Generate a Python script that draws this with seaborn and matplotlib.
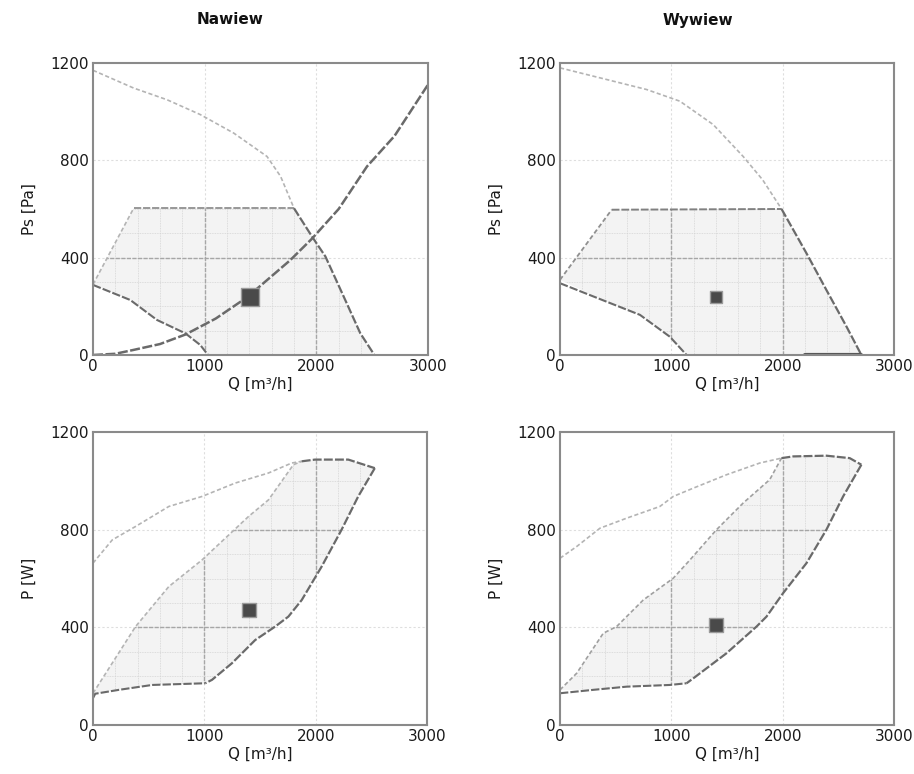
import numpy as np
import pandas as pd
import matplotlib
matplotlib.use("Agg")
import matplotlib.pyplot as plt
from matplotlib.patches import Polygon
import seaborn as sns

sns.set_theme(style="white")
plt.rcParams['font.family'] = ['DejaVu Sans']

# ---------------- data ----------------
titles = ["Nawiew", "Wywiew"]
x_ticks = [0, 1000, 2000, 3000]
y_ticks = [0, 400, 800, 1200]

# Top-left: Nawiew, Ps [Pa]
tl_max_q = [0, 364, 663, 961, 1260, 1558, 1680, 1800]
tl_max_ps = [1170, 1097, 1049, 988, 912, 816, 734, 603]
tl_right_q = [1800, 1961, 2081, 2245, 2394, 2520]
tl_right_ps = [603, 487, 405, 240, 89, 0]
tl_min_q = [0, 334, 573, 827, 961, 1030]
tl_min_ps = [288, 226, 144, 89, 41, 0]
tl_diag_q = [0, 364]
tl_diag_ps = [290, 603]
tl_top_q = [364, 1800]
tl_top_ps = [603, 603]
tl_sys_q = [0, 200, 364, 600, 827, 1100, 1379, 1767, 1961, 2200, 2454, 2700, 3000]
tl_sys_ps = [0, 5, 21, 45, 84, 150, 237, 390, 478, 600, 775, 900, 1111]
tl_op = (1410, 240)

# Top-right: Wywiew, Ps [Pa]
tr_max_q = [0, 359, 778, 1077, 1376, 1645, 1820, 1990]
tr_max_ps = [1180, 1139, 1091, 1043, 947, 816, 720, 600]
tr_right_q = [1990, 2214, 2393, 2573, 2707]
tr_right_ps = [600, 418, 267, 117, 0]
tr_min_q = [0, 419, 718, 987, 1137]
tr_min_ps = [295, 219, 165, 75, 0]
tr_diag_q = [0, 464]
tr_diag_ps = [309, 597]
tr_top_q = [464, 1990]
tr_top_ps = [597, 600]
tr_base_q = [2200, 2700]
tr_base_ps = [0, 0]
tr_op = (1400, 240)

# Bottom-left: Nawiew, P [W]
bl_up_q = [0, 173, 382, 681, 979, 1278, 1576, 1785, 1875]
bl_up_p = [663, 758, 813, 895, 936, 991, 1032, 1073, 1080]
bl_top_q = [1875, 1994, 2293, 2531]
bl_top_p = [1080, 1087, 1087, 1052]
bl_right_q = [2531, 2382, 2233, 2054, 1875, 1755, 1636, 1457, 1248, 1069, 1009]
bl_right_p = [1052, 936, 800, 649, 512, 444, 403, 348, 253, 185, 171]
bl_bot_q = [0, 20, 233, 531, 1009]
bl_bot_p = [110, 128, 144, 164, 171]
bl_in_q = [0, 382, 681, 979, 1397, 1576, 1800, 1875]
bl_in_p = [130, 403, 567, 676, 854, 922, 1066, 1080]
bl_op = (1400, 470)

# Bottom-right: Wywiew, P [W]
br_up_q = [0, 150, 359, 598, 897, 1017, 1197, 1496, 1795, 1989]
br_up_p = [683, 731, 806, 847, 895, 936, 970, 1025, 1073, 1093]
br_top_q = [1989, 2094, 2393, 2602, 2707]
br_top_p = [1093, 1100, 1103, 1093, 1066]
br_right_q = [2707, 2543, 2393, 2214, 2004, 1855, 1765, 1496, 1197, 1137]
br_right_p = [1066, 936, 800, 663, 540, 444, 403, 294, 191, 171]
br_bot_q = [0, 299, 598, 987, 1137]
br_bot_p = [130, 144, 157, 164, 171]
br_in_q = [0, 150, 389, 508, 748, 1017, 1167, 1406, 1645, 1884, 1989]
br_in_p = [144, 212, 376, 403, 512, 601, 676, 800, 909, 1005, 1093]
br_op = (1400, 410)

# ---------------- styles ----------------
LIGHT = "#b4b4b4"
DARK = "#6a6a6a"
FILL = "#f3f3f3"
light_ls = (0, (2.5, 1.5))
dark_ls = (0, (4, 1))

fig = plt.figure(figsize=(9.14, 7.74), dpi=100)
W, H = 914, 774


def add_ax(l, t, r, b):
    return fig.add_axes([l / W, 1 - b / H, (r - l) / W, (b - t) / H])


axes = {
    "tl": add_ax(93, 63, 428, 355),
    "tr": add_ax(560, 63, 894, 355),
    "bl": add_ax(93, 432, 427, 725),
    "br": add_ax(560, 432, 894, 725),
}


def line(ax, q, v, color, ls, lw):
    df = pd.DataFrame({"q": q, "v": v})
    sns.lineplot(data=df, x="q", y="v", ax=ax, color=color, linestyle=ls,
                 linewidth=lw, sort=False, estimator=None)


def region(ax, xs, ys):
    poly = Polygon(np.column_stack([xs, ys]), closed=True, facecolor=FILL,
                   edgecolor="none", zorder=0.5)
    ax.add_patch(poly)
    # dense grid inside the region
    for xv in np.arange(200, 3000, 200):
        l = ax.axvline(xv, color="#d4d4d4", lw=0.6, ls=(0, (1, 1)), zorder=0.6)
        l.set_clip_path(poly)
    for yv in np.arange(100, 1200, 100):
        l = ax.axhline(yv, color="#d4d4d4", lw=0.6, ls=(0, (1, 1)), zorder=0.6)
        l.set_clip_path(poly)
    for xv in [1000, 2000]:
        l = ax.axvline(xv, color="#a6a6a6", lw=1.0, ls=(0, (3, 1)), zorder=0.7)
        l.set_clip_path(poly)
    for yv in [400, 800]:
        l = ax.axhline(yv, color="#a6a6a6", lw=1.0, ls=(0, (3, 1)), zorder=0.7)
        l.set_clip_path(poly)


def style(ax, ylabel):
    ax.set_xlim(0, 3000)
    ax.set_ylim(0, 1200)
    ax.set_xticks(x_ticks)
    ax.set_yticks(y_ticks)
    ax.set_xticklabels([str(t) for t in x_ticks], fontsize=11, color="#1a1a1a")
    ax.set_yticklabels([str(t) for t in y_ticks], fontsize=11, color="#1a1a1a")
    ax.tick_params(length=0, pad=3)
    for yv in [400, 800]:
        ax.axhline(yv, color="#dedede", lw=0.8, ls=(0, (2, 2)), zorder=0.4)
    for xv in [1000, 2000]:
        ax.axvline(xv, color="#dedede", lw=0.8, ls=(0, (2, 2)), zorder=0.4)
    for s in ax.spines.values():
        s.set_color("#8a8a8a")
        s.set_linewidth(1.5)
    ax.set_xlabel("Q [m³/h]", fontsize=11, color="#1a1a1a", labelpad=2)
    ax.set_ylabel(ylabel, fontsize=11, color="#1a1a1a", labelpad=10)


def op_point(ax, pt, s):
    df = pd.DataFrame({"q": [pt[0]], "v": [pt[1]]})
    sns.scatterplot(data=df, x="q", y="v", ax=ax, marker="s", s=s,
                    color="#4a4a4a", edgecolor="#9a9a9a", linewidth=1, zorder=5)


# --- top-left ---
ax = axes["tl"]
region(ax,
       tl_diag_q + tl_top_q[1:] + tl_right_q[1:] + tl_min_q[::-1][:-1],
       tl_diag_ps + tl_top_ps[1:] + tl_right_ps[1:] + tl_min_ps[::-1][:-1])
line(ax, tl_max_q, tl_max_ps, LIGHT, light_ls, 1.2)
line(ax, tl_diag_q, tl_diag_ps, LIGHT, light_ls, 1.2)
line(ax, tl_top_q, tl_top_ps, "#909090", dark_ls, 1.3)
line(ax, tl_right_q, tl_right_ps, DARK, dark_ls, 1.6)
line(ax, tl_min_q, tl_min_ps, DARK, dark_ls, 1.5)
line(ax, tl_sys_q, tl_sys_ps, DARK, dark_ls, 1.8)
op_point(ax, tl_op, 150)
style(ax, "Ps [Pa]")

# --- top-right ---
ax = axes["tr"]
region(ax,
       tr_diag_q + tr_top_q[1:] + tr_right_q[1:] + tr_min_q[::-1][:-1],
       tr_diag_ps + tr_top_ps[1:] + tr_right_ps[1:] + tr_min_ps[::-1][:-1])
line(ax, tr_max_q, tr_max_ps, LIGHT, light_ls, 1.2)
line(ax, tr_diag_q, tr_diag_ps, "#909090", light_ls, 1.3)
line(ax, tr_top_q, tr_top_ps, "#808080", dark_ls, 1.4)
line(ax, tr_right_q, tr_right_ps, DARK, dark_ls, 1.6)
line(ax, tr_min_q, tr_min_ps, DARK, dark_ls, 1.5)
line(ax, tr_base_q, tr_base_ps, "#555555", "-", 3.0)
op_point(ax, tr_op, 80)
style(ax, "Ps [Pa]")

# --- bottom-left ---
ax = axes["bl"]
region(ax,
       bl_in_q + bl_top_q + bl_right_q[1:] + bl_bot_q[::-1][:-1],
       bl_in_p + bl_top_p + bl_right_p[1:] + bl_bot_p[::-1][:-1])
line(ax, bl_up_q, bl_up_p, LIGHT, light_ls, 1.2)
line(ax, bl_in_q, bl_in_p, LIGHT, light_ls, 1.2)
line(ax, bl_top_q, bl_top_p, DARK, dark_ls, 1.6)
line(ax, bl_right_q, bl_right_p, DARK, dark_ls, 1.6)
line(ax, bl_bot_q, bl_bot_p, DARK, dark_ls, 1.5)
op_point(ax, bl_op, 90)
style(ax, "P [W]")

# --- bottom-right ---
ax = axes["br"]
region(ax,
       br_in_q + br_top_q + br_right_q[1:] + br_bot_q[::-1][:-1],
       br_in_p + br_top_p + br_right_p[1:] + br_bot_p[::-1][:-1])
line(ax, br_up_q, br_up_p, LIGHT, light_ls, 1.2)
line(ax, br_in_q, br_in_p, "#a0a0a0", light_ls, 1.2)
line(ax, br_top_q, br_top_p, DARK, dark_ls, 1.6)
line(ax, br_right_q, br_right_p, DARK, dark_ls, 1.6)
line(ax, br_bot_q, br_bot_p, DARK, dark_ls, 1.5)
op_point(ax, br_op, 100)
style(ax, "P [W]")

# titles
fig.text(230 / W, 1 - 20 / H, titles[0], ha="center", va="center",
         fontsize=11, fontweight="bold", color="#111111")
fig.text(698 / W, 1 - 20 / H, titles[1], ha="center", va="center",
         fontsize=11, fontweight="bold", color="#111111")

fig.savefig("out.png", dpi=100, facecolor="white")
